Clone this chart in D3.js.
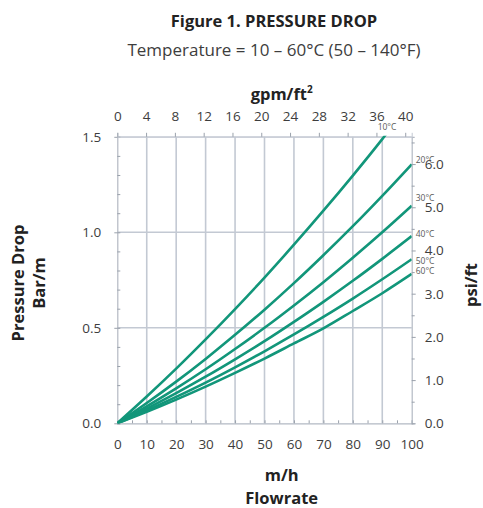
<!DOCTYPE html>
<html>
<head>
<meta charset="utf-8">
<script src="https://cdn.jsdelivr.net/npm/d3@7"></script>
<style>
  body { margin: 0; background: #fff; }
  text { font-family: "Open Sans", "Noto Sans", sans-serif; }
</style>
</head>
<body>
<div id="chart"></div>
<script>
// flowrate (m/h) sample points
var flows = [0, 10, 20, 30, 40, 50, 60, 70, 80, 90, 100];
var temps = ["10°C", "20°C", "30°C", "40°C", "50°C", "60°C"];
// pressure drop (bar/m) for each temperature
var drop10 = [0, 0.14, 0.286, 0.439, 0.598, 0.763, 0.935, 1.113, 1.297, 1.488, 1.69];
var drop20 = [0, 0.106, 0.218, 0.337, 0.463, 0.595, 0.734, 0.88, 1.032, 1.191, 1.356];
var drop30 = [0, 0.089, 0.183, 0.283, 0.389, 0.50, 0.617, 0.739, 0.867, 1.00, 1.139];
var drop40 = [0, 0.077, 0.158, 0.244, 0.335, 0.43, 0.531, 0.636, 0.746, 0.861, 0.98];
var drop50 = [0, 0.067, 0.138, 0.213, 0.293, 0.377, 0.465, 0.557, 0.653, 0.754, 0.859];
var drop60 = [0, 0.06, 0.124, 0.192, 0.264, 0.339, 0.418, 0.497, 0.588, 0.681, 0.782];
var drops = [drop10, drop20, drop30, drop40, drop50, drop60];

var flowTicks = [0, 10, 20, 30, 40, 50, 60, 70, 80, 90, 100];
var gpmTicks = [0, 4, 8, 12, 16, 20, 24, 28, 32, 36, 40];
var barTicks = [0, 0.5, 1.0, 1.5];
var psiTicks = [0, 1, 2, 3, 4, 5, 6];

var m3hPerGpm = 2.445;     // 1 gpm/ft2 = 2.445 m/h
var barPerPsi = 0.22621;   // 1 psi/ft = 0.22621 bar/m

var width = 483, height = 508;
var plotL = 117.3, plotR = 411.7, plotT = 136.8, plotB = 423.3;
var green = "#12967a";
var grid = "#c3c9d3";
var ink = "#3d3d3d";
var titleSize = 16.5;
// small vertical nudges for the temperature labels at the curve ends
var labelNudge = [0, -4.5, -8, -2, 1.5, -2.5];

var x = d3.scaleLinear().domain([0, 100]).range([plotL, plotR]);
var y = d3.scaleLinear().domain([0, 1.5]).range([plotB, plotT]);
var xTop = d3.scaleLinear().domain([0, 100 / m3hPerGpm]).range([plotL, plotR]);
var yRight = d3.scaleLinear().domain([0, 1.5 / barPerPsi]).range([plotB, plotT]);

var svg = d3.select("#chart").append("svg")
    .attr("width", width)
    .attr("height", height);

// titles
svg.append("text").attr("x", 274).attr("y", 27)
    .attr("text-anchor", "middle").attr("font-weight", "bold")
    .attr("font-size", 16.5).attr("fill", "#222")
    .text("Figure 1. PRESSURE DROP");
svg.append("text").attr("x", 274).attr("y", 55.5)
    .attr("text-anchor", "middle").attr("font-size", 17).attr("fill", ink)
    .text("Temperature = 10 – 60°C (50 – 140°F)");

// grid
var g = svg.append("g");
g.selectAll(".vgrid").data(flowTicks.slice(1, -1)).enter().append("line")
    .attr("x1", function (d) { return x(d); }).attr("x2", function (d) { return x(d); })
    .attr("y1", plotT).attr("y2", plotB)
    .attr("stroke", grid).attr("stroke-width", 1.6);
g.selectAll(".hgrid").data(barTicks.slice(1)).enter().append("line")
    .attr("x1", plotL).attr("x2", plotR)
    .attr("y1", function (d) { return y(d); }).attr("y2", function (d) { return y(d); })
    .attr("stroke", grid).attr("stroke-width", function (d) { return d == 1.5 ? 1 : 1.6; });

// axes
var axisBottom = d3.axisBottom(x).tickValues(d3.range(0, 101, 5)).tickSize(-3).tickFormat("");
var axisLeftMinor = d3.axisLeft(y).tickValues(d3.range(0, 1.51, 0.1)).tickSize(-3).tickFormat("");
var axisLeft = d3.axisLeft(y).tickValues(barTicks).tickSize(3).tickPadding(13).tickFormat(d3.format(".1f"));
var axisRight = d3.axisRight(yRight).tickValues(psiTicks).tickSize(4).tickPadding(9).tickFormat(d3.format(".1f"));
var axisRightMinor = d3.axisRight(yRight).tickValues(d3.range(0.5, 6.6, 1)).tickSize(3).tickFormat("");
var axisTop = d3.axisTop(xTop).tickValues(gpmTicks).tickSize(4).tickPadding(12);

function styleAxis(sel) {
    sel.select(".domain").attr("stroke", "#b3b9c3").attr("stroke-width", 1.2);
    sel.selectAll(".tick line").attr("stroke", "#9aa1ab");
    sel.selectAll("text").attr("font-size", 13.5).attr("fill", ink)
        .attr("font-family", "'Open Sans', 'Noto Sans', sans-serif");
}

svg.append("g").attr("transform", "translate(0," + plotB + ")").call(axisBottom).call(styleAxis);
svg.append("g").attr("transform", "translate(0," + plotB + ")")
    .call(d3.axisBottom(x).tickValues(flowTicks).tickSize(0).tickPadding(16)).call(styleAxis)
    .select(".domain").remove();
svg.append("g").attr("transform", "translate(" + plotL + ",0)").call(axisLeftMinor).call(styleAxis);
svg.append("g").attr("transform", "translate(" + plotL + ",0)").call(axisLeft).call(styleAxis)
    .select(".domain").remove();
svg.append("g").attr("transform", "translate(" + plotR + ",0)").call(axisRightMinor).call(styleAxis);
svg.append("g").attr("transform", "translate(" + plotR + ",0)").call(axisRight).call(styleAxis)
    .select(".domain").remove();
svg.append("g").attr("transform", "translate(0," + plotT + ")").call(axisTop).call(styleAxis)
    .select(".domain").attr("stroke", grid).attr("stroke-width", 1);

// curves
svg.append("clipPath").attr("id", "plot").append("rect")
    .attr("x", plotL).attr("y", plotT - 1).attr("width", plotR - plotL).attr("height", plotB - plotT + 1);

var line = d3.line()
    .x(function (d, i) { return x(flows[i]); })
    .y(function (d) { return y(d); })
    .curve(d3.curveMonotoneX);

svg.append("g").attr("clip-path", "url(#plot)")
    .selectAll(".curve").data(drops).enter().append("path")
    .attr("class", "curve")
    .attr("d", line)
    .attr("fill", "none")
    .attr("stroke", green)
    .attr("stroke-width", 2.6);

// temperature labels
svg.selectAll(".tlabel").data(temps).enter().append("text")
    .attr("class", "tlabel")
    .attr("x", function (d, i) { return i == 0 ? 387 : plotR + 4; })
    .attr("y", function (d, i) {
        if (i == 0) return plotT - 6.5;
        return y(drops[i][drops[i].length - 1]) + labelNudge[i] + 3;
    })
    .attr("text-anchor", function (d, i) { return i == 0 ? "middle" : "start"; })
    .attr("font-size", 8.5)
    .attr("fill", "#5a5a5a")
    .text(function (d) { return d; });

// axis titles
svg.append("text").attr("x", 281.7).attr("y", 100)
    .attr("text-anchor", "middle").attr("font-weight", "bold").attr("font-size", titleSize).attr("fill", "#222")
    .html("gpm/ft<tspan dy='-7' font-size='10'>2</tspan>");
svg.append("text").attr("x", 281.7).attr("y", 481)
    .attr("text-anchor", "middle").attr("font-weight", "bold").attr("font-size", titleSize).attr("fill", "#222")
    .text("m/h");
svg.append("text").attr("x", 281.7).attr("y", 504)
    .attr("text-anchor", "middle").attr("font-weight", "bold").attr("font-size", titleSize).attr("fill", "#222")
    .text("Flowrate");
svg.append("text").attr("transform", "translate(24,283) rotate(-90)")
    .attr("text-anchor", "middle").attr("font-weight", "bold").attr("font-size", titleSize).attr("fill", "#222")
    .text("Pressure Drop");
svg.append("text").attr("transform", "translate(45,283) rotate(-90)")
    .attr("text-anchor", "middle").attr("font-weight", "bold").attr("font-size", titleSize).attr("fill", "#222")
    .text("Bar/m");
svg.append("text").attr("transform", "translate(477,285) rotate(-90)")
    .attr("text-anchor", "middle").attr("font-weight", "bold").attr("font-size", titleSize).attr("fill", "#222")
    .text("psi/ft");
</script>
</body>
</html>
